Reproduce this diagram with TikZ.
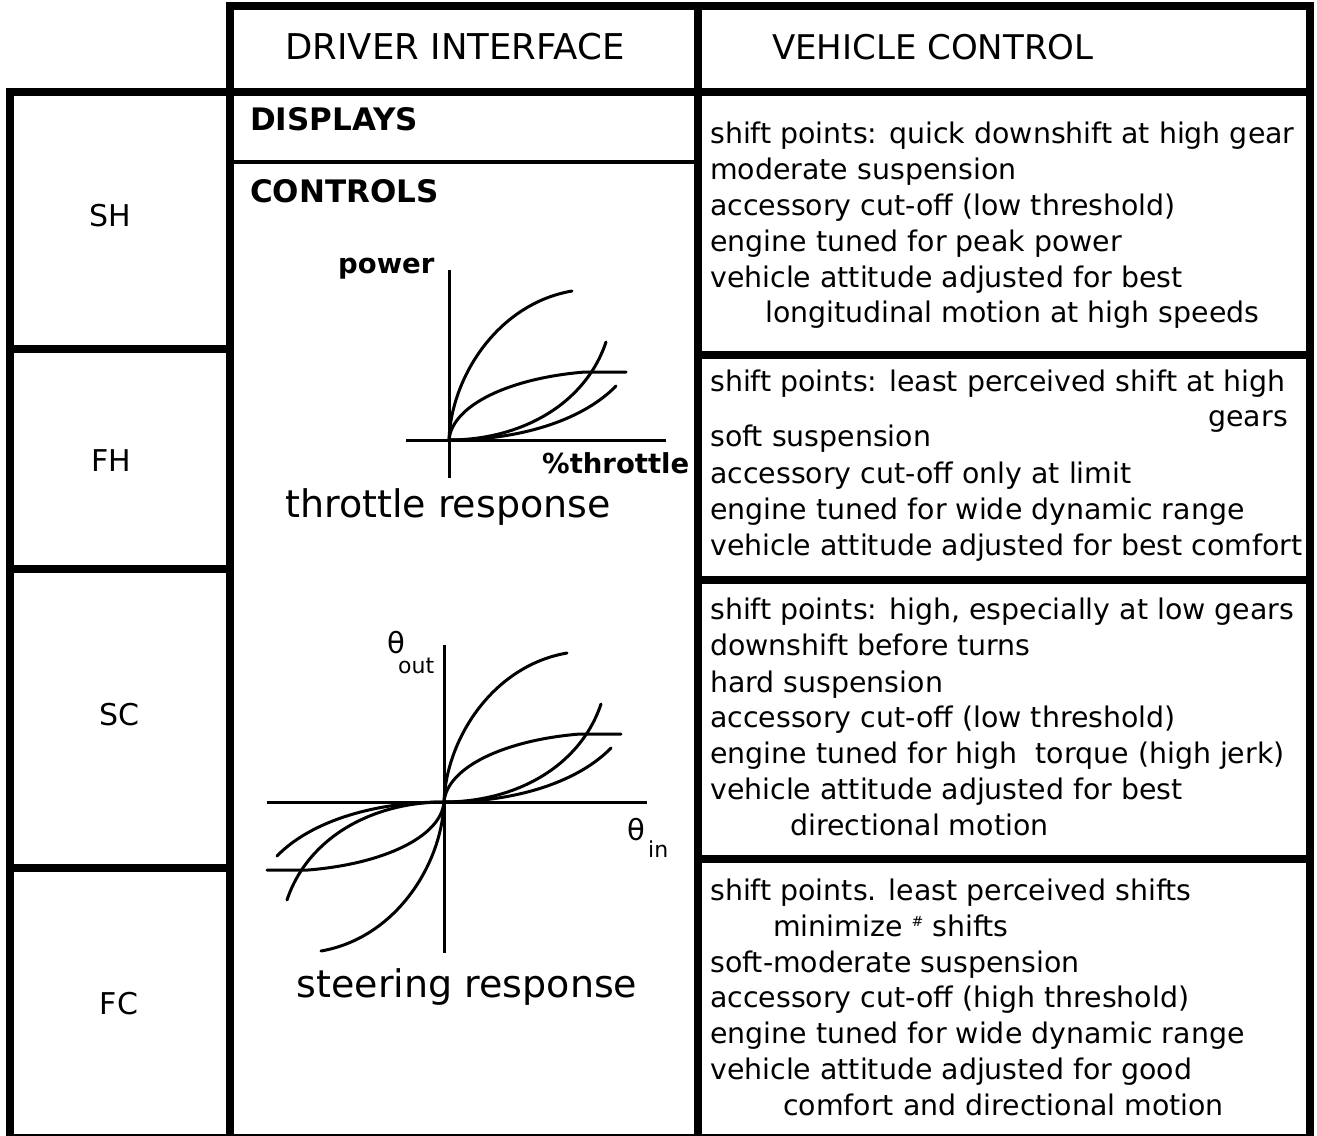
\documentclass[tikz,border=0pt]{standalone}
\usepackage{fontspec}
\setmainfont{DejaVu Sans}

% four response curves of one quadrant, drawn from the local origin
\newcommand\respset{%
  \draw[resp] (0,0) .. controls (2,-62) and (48,-136) .. (123,-149);
  \draw[resp] (0,0) .. controls (3,-35) and (61,-62) .. (136,-68) -- (177,-68);
  \draw[resp] (0,0) .. controls (71,0) and (136,-35) .. (157,-98);
  \draw[resp] (0,0) .. controls (76,0) and (136,-22) .. (167,-54);
}

\begin{document}
\begin{tikzpicture}[x=1pt,y=-1pt,
  frame/.style={line width=8.5pt},
  thinrule/.style={line width=3.5pt},
  axisline/.style={line width=3pt},
  resp/.style={line width=3pt, line cap=round},
  body/.style={anchor=base west, inner sep=0pt, font=\fontsize{28.4}{34}\selectfont},
  colhead/.style={anchor=base, inner sep=0pt, font=\fontsize{35.5}{40}\selectfont},
  rowhead/.style={anchor=base, inner sep=0pt, font=\fontsize{30}{36}\selectfont},
  subhead/.style={anchor=base west, inner sep=0pt, font=\bfseries\fontsize{31}{36}\selectfont},
  axlabel/.style={anchor=base west, inner sep=0pt, font=\bfseries\fontsize{27.5}{30}\selectfont},
  caption/.style={anchor=base, inner sep=0pt, font=\fontsize{38}{42}\selectfont},
  theta/.style={anchor=base west, inner sep=0pt, font=\fontsize{29}{30}\selectfont},
  thetasub/.style={anchor=base west, inner sep=0pt, font=\fontsize{22}{24}\selectfont},
]
\useasboundingbox (0,0) rectangle (1317,1135);
\fill[white] (0,0) rectangle (1317,1135);
\clip (0,0) rectangle (1317,1135);

% ---- header row
\draw[frame] (230,6) rectangle (1310,92);
\draw[frame] (698,6) -- (698,92);
\node[colhead] (hdi) at (455,59) {DRIVER INTERFACE};
\node[colhead, anchor=base west, font=\fontsize{34}{40}\selectfont] (hvc) at (772,59) {VEHICLE CONTROL};

% ---- row labels column
\draw[frame] (10,92) rectangle (230,1138);
\draw[frame] (10,349) -- (230,349);
\draw[frame] (10,569) -- (230,569);
\draw[frame] (10,868) -- (230,868);
\node[rowhead] (rsh) at (110,226) {SH};
\node[rowhead] (rfh) at (111,471) {FH};
\node[rowhead] (rsc) at (119,725) {SC};
\node[rowhead] (rfc) at (119,1014) {FC};

% ---- driver interface column
\draw[frame] (230,92) rectangle (698,1138);
\draw[thinrule] (230,162) -- (698,162);
\node[subhead] (disp) at (250,130) {DISPLAYS};
\node[subhead] (ctrl) at (250,202) {CONTROLS};

% throttle response plot
\coordinate (to) at (449,440);
\draw[axisline] (449,270) -- (449,478);
\draw[axisline] (406,440) -- (666,440);
\begin{scope}[shift={(to)}]
  \respset
\end{scope}
\node[axlabel] (pw) at (338,273) {power};
\node[axlabel] (thr) at (542,473) {\%throttle};
\node[caption] (thrcap) at (448,517) {throttle response};

% steering response plot
\coordinate (so) at (444,802);
\draw[axisline] (444,645) -- (444,953);
\draw[axisline] (267,802) -- (647,802);
\begin{scope}[shift={(so)}]
  \respset
\end{scope}
\begin{scope}[shift={(so)}, rotate=180]
  \respset
\end{scope}
\node[theta] (tout) at (387,653) {θ};
\node[thetasub] (touts) at (398,673) {out};
\node[theta] (tin) at (627,840) {θ};
\node[thetasub] (tins) at (648,857) {in};
\node[caption] (stcap) at (467,997) {steering response};

% ---- vehicle control column
\draw[frame] (698,92) rectangle (1310,1138);
\draw[frame] (698,355) -- (1310,355);
\draw[frame] (698,580) -- (1310,580);
\draw[frame] (698,859) -- (1310,859);

% SH
\node[body] (sh1) at (710,143) {shift points: quick downshift at high gear};
\node[body] (sh2) at (710,179) {moderate suspension};
\node[body] (sh3) at (710,215) {accessory cut-off (low threshold)};
\node[body] (sh4) at (710,251) {engine tuned for peak power};
\node[body] (sh5) at (710,287) {vehicle attitude adjusted for best};
\node[body] (sh6) at (765,322) {longitudinal motion at high speeds};

% FH
\node[body] (fh1) at (710,391) {shift points: least perceived shift at high};
\node[body, anchor=base east] (fh2) at (1288,426) {gears};
\node[body] (fh3) at (710,446) {soft suspension};
\node[body] (fh4) at (710,483) {accessory cut-off only at limit};
\node[body] (fh5) at (710,519) {engine tuned for wide dynamic range};
\node[body] (fh6) at (710,555) {vehicle attitude adjusted for best comfort};

% SC
\node[body] (sc1) at (710,619) {shift points: high, especially at low gears};
\node[body] (sc2) at (710,655) {downshift before turns};
\node[body] (sc3) at (710,692) {hard suspension};
\node[body] (sc4) at (710,727) {accessory cut-off (low threshold)};
\node[body] (sc5) at (710,763) {engine tuned for high\ \ torque (high jerk)};
\node[body] (sc6) at (710,799) {vehicle attitude adjusted for best};
\node[body] (sc7) at (790,835) {directional motion};

% FC
\node[body] (fc1) at (710,900) {shift points. least perceived shifts};
\node[body] (fc2) at (773,936) {minimize \raisebox{0.35em}{\fontsize{14}{14}\selectfont\#} shifts};
\node[body] (fc3) at (710,972) {soft-moderate suspension};
\node[body] (fc4) at (710,1007) {accessory cut-off (high threshold)};
\node[body] (fc5) at (710,1043) {engine tuned for wide dynamic range};
\node[body] (fc6) at (710,1079) {vehicle attitude adjusted for good};
\node[body] (fc7) at (783,1115) {comfort and directional motion};
\end{tikzpicture}
\end{document}
